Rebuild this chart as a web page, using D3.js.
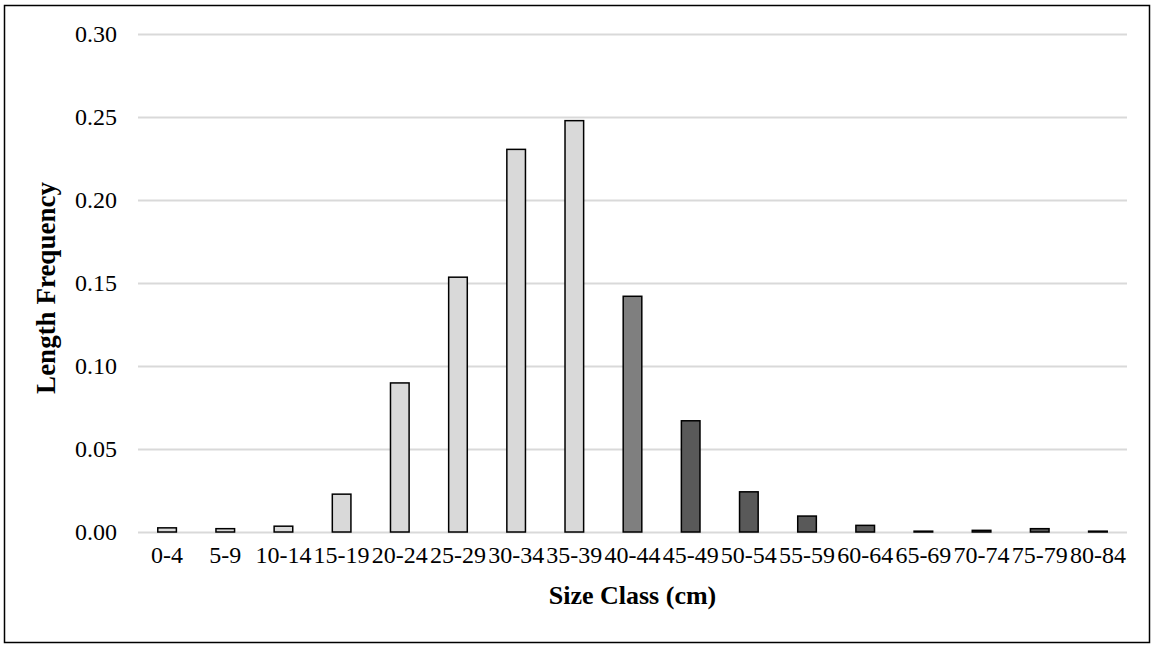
<!DOCTYPE html>
<html><head><meta charset="utf-8">
<script src="https://cdn.jsdelivr.net/npm/d3@7"></script>
<style>body{margin:0;background:#fff}svg{display:block}</style>
</head><body>
<svg id="chart" width="1151" height="645"></svg>
<script>
const categories = ["0-4","5-9","10-14","15-19","20-24","25-29","30-34","35-39","40-44","45-49","50-54","55-59","60-64","65-69","70-74","75-79","80-84"];
const frequency = [0.0025,0.002,0.0035,0.0228,0.0898,0.1535,0.2305,0.2478,0.1420,0.0670,0.0242,0.0096,0.0040,0.0005,0.0010,0.0020,0.0005];
const groups = ["light","light","light","light","light","light","light","light","mid","dark","dark","dark","dark","dark","dark","dark","dark"];
const yTicks = [0,0.05,0.10,0.15,0.20,0.25,0.30];
const groupColors = {light:"#d9d9d9", mid:"#7f7f7f", dark:"#595959"};

const svg = d3.select("#chart");
const font = "'Liberation Serif','Times New Roman',serif";
const m = {left:138, right:1127, top:34, bottom:532};

svg.append("rect").attr("x",4.5).attr("y",5.5).attr("width",1145).attr("height",637)
  .attr("fill","#fff").attr("stroke","#000").attr("stroke-width",1.5);

const x = d3.scaleBand().domain(categories).range([m.left,m.right]).paddingInner(0.68).paddingOuter(0.34);
const y = d3.scaleLinear().domain([0,0.30]).range([m.bottom,m.top]);

const gy = svg.append("g").attr("transform",`translate(${m.left},0)`)
  .call(d3.axisLeft(y).tickValues(yTicks).tickFormat(d3.format(".2f")).tickSize(-(m.right-m.left)).tickPadding(21));
gy.select(".domain").remove();
gy.selectAll(".tick line").attr("stroke","#d9d9d9").attr("stroke-width",2);
gy.selectAll(".tick text").attr("font-family",font).attr("font-size",24).attr("fill","#000");

svg.append("g").selectAll("rect").data(categories).join("rect")
  .attr("x",d=>x(d)).attr("width",x.bandwidth())
  .attr("y",(d,i)=>y(frequency[i])).attr("height",(d,i)=>y(0)-y(frequency[i]))
  .attr("fill",(d,i)=>groupColors[groups[i]]).attr("stroke","#000").attr("stroke-width",1.5);

const gx = svg.append("g").attr("transform",`translate(0,${m.bottom})`)
  .call(d3.axisBottom(x).tickSize(0).tickPadding(14));
gx.select(".domain").remove();
gx.selectAll(".tick text").attr("font-family",font).attr("font-size",24).attr("fill","#000");

svg.append("text").attr("x",(m.left+m.right)/2).attr("y",604).attr("text-anchor","middle")
  .attr("font-family",font).attr("font-size",26).attr("font-weight","bold").text("Size Class (cm)");
svg.append("text").attr("transform","translate(55,288) rotate(-90)").attr("text-anchor","middle")
  .attr("font-family",font).attr("font-size",27).attr("font-weight","bold").text("Length Frequency");
</script>
</body></html>
